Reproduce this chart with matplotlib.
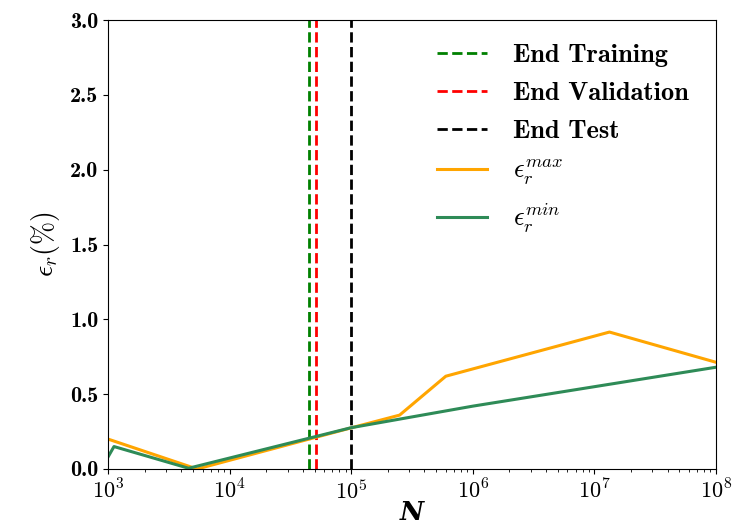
import numpy as np
import matplotlib
matplotlib.use('Agg')
import matplotlib.pyplot as plt
from matplotlib.ticker import FuncFormatter, LogLocator

# Datos
n_train = 45200
n_val = 51400
n_test = 1e5

n_max = [1000, 5400, 1e5, 2.5e5, 6e5, 1.33e7, 1e8]
err_max = [0.20, 0.0, 0.275, 0.36, 0.62, 0.915, 0.713]

n_min = [1000, 1120, 4600, 1e5, 1e6, 1e7, 1e8]
err_min = [0.08, 0.15, 0.005, 0.276, 0.42, 0.55, 0.68]

plt.rcParams['font.family'] = 'serif'
plt.rcParams['font.serif'] = ['cmb10']
plt.rcParams['mathtext.fontset'] = 'cm'
plt.rcParams['axes.unicode_minus'] = False

fig = plt.figure(figsize=(7.54, 5.28), dpi=100)
ax = fig.add_axes([108/754, 1 - 469/528, 608/754, 449/528])

ax.axvline(n_train, color='green', ls='--', lw=2, label='End Training')
ax.axvline(n_val, color='red', ls='--', lw=2, label='End Validation')
ax.axvline(n_test, color='black', ls='--', lw=2, label='End Test')
ax.plot(n_max, err_max, color='orange', lw=2.2, label=r'$\epsilon_r^{max}$')
ax.plot(n_min, err_min, color='seagreen', lw=2.2, label=r'$\epsilon_r^{min}$')

ax.set_xscale('log')
ax.set_xlim(1e3, 1e8)
ax.set_ylim(0, 3.0)
ax.set_yticks(np.arange(0, 3.01, 0.5))
ax.xaxis.set_minor_locator(LogLocator(base=10, subs=np.arange(2, 10), numticks=20))
ax.xaxis.set_major_formatter(FuncFormatter(lambda v, p: r'$\mathbf{10^{%d}}$' % round(np.log10(v))))
ax.tick_params(labelsize=16)

ax.set_xlabel('N', fontsize=19, fontstyle='italic', fontweight='bold', family='DejaVu Serif', labelpad=-2)
ax.set_ylabel(r'$\epsilon_r(\%)$', fontsize=20, labelpad=6)

ax.legend(loc='upper right', frameon=False, fontsize=19, handlelength=1.9,
          handletextpad=1.0, labelspacing=0.55, bbox_to_anchor=(0.995, 1.0))

fig.savefig('out.png', dpi=100)
